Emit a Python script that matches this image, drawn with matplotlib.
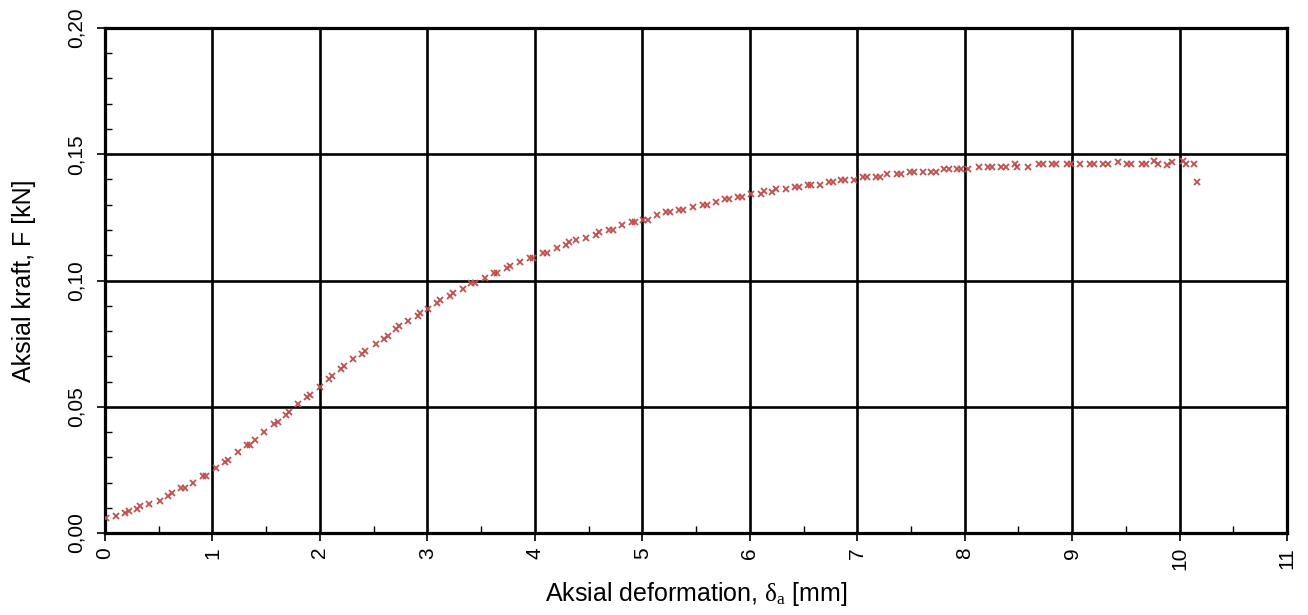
import numpy as np
from matplotlib import pyplot as plt
from matplotlib.ticker import FuncFormatter, MultipleLocator

plt.rcParams['font.family'] = ['Liberation Sans', 'DejaVu Sans']
plt.rcParams['mathtext.fontset'] = 'custom'
plt.rcParams['mathtext.rm'] = 'Liberation Serif'
plt.rcParams['mathtext.it'] = 'Liberation Serif:italic'

# Aksial deformation [mm]
deformation = [
    0.01, 0.10, 0.19, 0.22, 0.30, 0.33, 0.41, 0.51, 0.59, 0.62,
    0.71, 0.74, 0.82, 0.915, 0.94, 1.03, 1.12, 1.145, 1.235, 1.32,
    1.35, 1.40, 1.48, 1.57, 1.61, 1.685, 1.715, 1.80, 1.88, 1.91,
    2.00, 2.08, 2.11, 2.20, 2.22, 2.31, 2.395, 2.42, 2.52, 2.60,
    2.63, 2.71, 2.74, 2.82, 2.91, 2.935, 3.01, 3.09, 3.12, 3.21,
    3.235, 3.33, 3.41, 3.44, 3.54, 3.62, 3.65, 3.74, 3.77, 3.86,
    3.955, 3.985, 4.08, 4.11, 4.21, 4.29, 4.32, 4.385, 4.48, 4.57,
    4.60, 4.69, 4.725, 4.81, 4.90, 4.93, 5.01, 5.05, 5.14, 5.22,
    5.26, 5.34, 5.38, 5.475, 5.565, 5.60, 5.69, 5.77, 5.81, 5.89,
    5.93, 6.01, 6.10, 6.13, 6.21, 6.24, 6.34, 6.42, 6.46, 6.54,
    6.57, 6.65, 6.74, 6.775, 6.85, 6.89, 6.97, 7.055, 7.09, 7.17,
    7.21, 7.28, 7.37, 7.41, 7.49, 7.525, 7.61, 7.69, 7.73, 7.81,
    7.85, 7.93, 7.97, 8.035, 8.13, 8.22, 8.255, 8.34, 8.38, 8.47,
    8.49, 8.59, 8.69, 8.73, 8.81, 8.85, 8.95, 8.985, 9.07, 9.165,
    9.20, 9.29, 9.33, 9.425, 9.51, 9.55, 9.65, 9.685, 9.76, 9.80,
    9.88, 9.93, 10.03, 10.06, 10.13, 10.165,
]

# Aksial kraft [kN]
force = [
    0.0058, 0.0069, 0.0078, 0.0087, 0.0096, 0.0107, 0.0116, 0.0127, 0.0148, 0.0157,
    0.0177, 0.0177, 0.0197, 0.0226, 0.0226, 0.0259, 0.0280, 0.0288, 0.0320, 0.0347,
    0.0347, 0.0367, 0.0399, 0.0430, 0.0439, 0.0468, 0.0478, 0.0509, 0.0538, 0.0547,
    0.0580, 0.0611, 0.0620, 0.0650, 0.0660, 0.0689, 0.0709, 0.0720, 0.0750, 0.0770,
    0.0779, 0.0808, 0.0819, 0.0840, 0.0860, 0.0870, 0.0887, 0.0912, 0.0922, 0.0940,
    0.0949, 0.0967, 0.0990, 0.0990, 0.1010, 0.1030, 0.1030, 0.1049, 0.1058, 0.1072,
    0.1090, 0.1090, 0.1109, 0.1109, 0.1130, 0.1140, 0.1152, 0.1160, 0.1169, 0.1181,
    0.1192, 0.1201, 0.1201, 0.1220, 0.1230, 0.1230, 0.1241, 0.1241, 0.1259, 0.1270,
    0.1270, 0.1280, 0.1280, 0.1290, 0.1299, 0.1299, 0.1310, 0.1321, 0.1321, 0.1332,
    0.1332, 0.1341, 0.1341, 0.1354, 0.1350, 0.1361, 0.1361, 0.1370, 0.1370, 0.1379,
    0.1379, 0.1379, 0.1389, 0.1389, 0.1398, 0.1398, 0.1398, 0.1411, 0.1411, 0.1411,
    0.1411, 0.1420, 0.1420, 0.1420, 0.1430, 0.1430, 0.1430, 0.1430, 0.1430, 0.1440,
    0.1440, 0.1440, 0.1440, 0.1440, 0.1450, 0.1450, 0.1450, 0.1450, 0.1450, 0.1461,
    0.1450, 0.1450, 0.1460, 0.1460, 0.1460, 0.1460, 0.1460, 0.1460, 0.1460, 0.1460,
    0.1460, 0.1460, 0.1460, 0.1469, 0.1460, 0.1460, 0.1460, 0.1460, 0.1472, 0.1460,
    0.1457, 0.1470, 0.1472, 0.1460, 0.1460, 0.1389,
]

fig = plt.figure(figsize=(13.08, 6.15), dpi=100)
ax = fig.add_axes([0.0803, 0.1333, 0.9037, 0.8212])

ax.plot(deformation, force, linestyle='none', marker='x', color='#c0504d',
        markersize=4.5, markeredgewidth=1.3, zorder=3)

ax.set_xlim(0, 11)
ax.set_ylim(0, 0.20)
ax.xaxis.set_major_locator(MultipleLocator(1))
ax.xaxis.set_minor_locator(MultipleLocator(0.5))
ax.yaxis.set_major_locator(MultipleLocator(0.05))
ax.yaxis.set_minor_locator(MultipleLocator(0.01))

# decimal comma on the force axis
ax.yaxis.set_major_formatter(FuncFormatter(lambda v, _: f'{v:.2f}'.replace('.', ',')))
ax.xaxis.set_major_formatter(FuncFormatter(lambda v, _: f'{v:.0f}'))

ax.grid(True, which='major', color='black', linewidth=1.9, zorder=1)
ax.set_axisbelow(True)
for sp in ax.spines.values():
    sp.set_linewidth(2.3)
    sp.set_color('black')

ax.tick_params(which='major', direction='out', length=6, width=1.2, labelsize=15, pad=4)
ax.tick_params(axis='y', which='major', pad=8)
ax.tick_params(which='minor', direction='in', length=5, width=1.0)
ax.tick_params(axis='x', which='major', labelrotation=90)
ax.tick_params(axis='y', which='major', labelrotation=90)
for lbl in ax.get_yticklabels():
    lbl.set_va('center')

ax.set_xlabel(r'Aksial deformation, $\mathrm{\delta}_\mathrm{a}$ [mm]', fontsize=18)
ax.set_ylabel('Aksial kraft, F [kN]', fontsize=18)
ax.xaxis.set_label_coords(0.5, -0.093)
ax.yaxis.set_label_coords(-0.058, 0.5)

fig.savefig('out.png', dpi=100)
